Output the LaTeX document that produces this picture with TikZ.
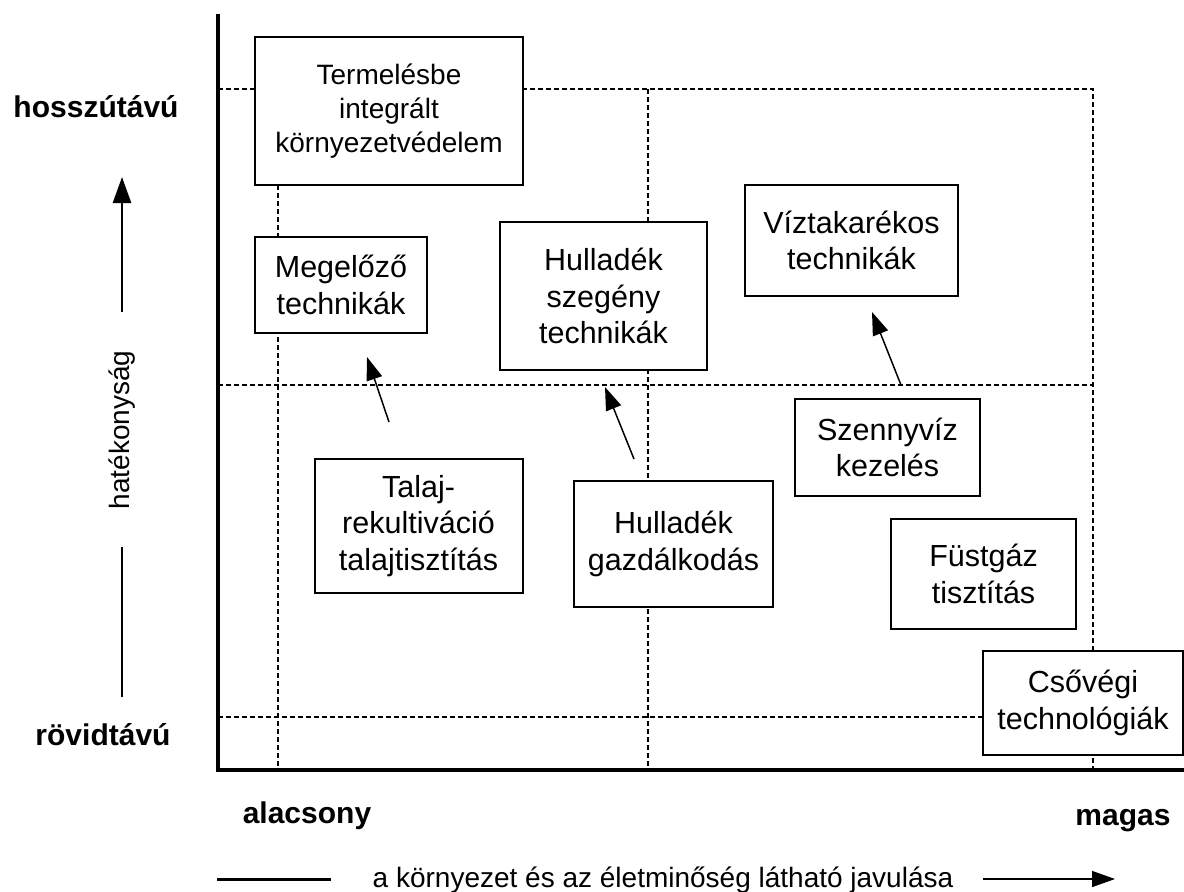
\documentclass[tikz,border=0pt]{standalone}
\usepackage{fontspec}
\setmainfont{Liberation Sans}
\usetikzlibrary{arrows.meta}

\begin{document}
\begin{tikzpicture}[x=0.5pt,y=-0.5pt,
  tbox/.style={rectangle,draw=black,line width=1pt,fill=white,inner sep=0pt,
               align=center,font=\fontsize{15.25}{18.25}\selectfont},
  lbl/.style={anchor=base,font=\fontsize{15}{18}\selectfont\bfseries},
  txt/.style={font=\fontsize{14}{17}\selectfont},
  axisline/.style={draw,line width=2.2pt,line join=miter},
  gridline/.style={draw,line width=1pt,dash pattern=on 2.5pt off 1.5pt},
  arr/.style={draw,line width=0.75pt,-{Triangle[length=11.5pt,width=8pt]}},
  side/.style={draw,line width=1.3pt}]
\useasboundingbox (0,0) rectangle (1184,891);

% dotted quadrant grid
\draw[gridline] (218,89) -- (1093,89) -- (1093,770);
\draw[gridline] (218,385) -- (1093,385);
\draw[gridline] (218,717) -- (1093,717);
\draw[gridline] (278,89) -- (278,770);
\draw[gridline] (648,89) -- (648,770);

% axes
\draw[axisline] (218,14) -- (218,770) -- (1184,770);

% techniques
\node[tbox,font=\fontsize{14}{17}\selectfont,minimum width=134pt,minimum height=74pt] (termel) at (389,111) {Termelésbe\\integrált\\környezetvédelem};
\node[tbox,minimum width=86pt,minimum height=48pt] (megelozo) at (341,285) {Megelőző\\technikák};
\node[tbox,minimum width=103.5pt,minimum height=74pt] (hszegeny) at (603.5,296) {Hulladék\\szegény\\technikák};
\node[tbox,minimum width=106.5pt,minimum height=55.5pt] (viztak) at (851.5,240.5) {Víztakarékos\\technikák};
\node[tbox,minimum width=104pt,minimum height=67pt] (talaj) at (418.5,526) {Talaj-\\rekultiváció\\talajtisztítás};
\node[tbox,minimum width=99.5pt,minimum height=63pt] (hgazd) at (673.5,544) {Hulladék\\gazdálkodás};
\node[tbox,minimum width=92.5pt,minimum height=48.5pt] (szenny) at (887.5,447.5) {Szennyvíz\\kezelés};
\node[tbox,minimum width=92.5pt,minimum height=55pt] (fustgaz) at (983.5,574) {Füstgáz\\tisztítás};
\node[tbox,minimum width=100pt,minimum height=52pt] (csovegi) at (1083,703) {Csővégi\\technológiák};

% shifts towards the preventive side
\coordinate (talaj-up) at (389,422);
\coordinate (megelozo-in) at (367,357);
\coordinate (hgazd-up) at (634,459);
\coordinate (hszegeny-in) at (605,387);
\coordinate (szenny-up) at (901,385);
\coordinate (viztak-in) at (872,312);
\path[arr] (talaj-up) -- (megelozo-in);
\path[arr] (hgazd-up) -- (hszegeny-in);
\path[arr] (szenny-up) -- (viztak-in);

% vertical scale
\node[lbl] (hosszu) at (96,117) {hosszútávú};
\node[lbl] (rovid) at (103,745) {rövidtávú};
\node[txt,rotate=90] (hatek) at (122,430) {hatékonyság};
\coordinate (eff-lo) at (122,697);
\coordinate (eff-mid) at (122,547);
\coordinate (eff-base) at (122,312);
\coordinate (eff-top) at (122,177);
\path[side] (eff-lo) -- (eff-mid);
\path[side,-{Triangle[length=13pt,width=9pt]}] (eff-base) -- (eff-top);

% horizontal scale
\node[lbl] (alacsony) at (307,823) {alacsony};
\node[lbl] (magas) at (1123,825) {magas};
\node[txt,anchor=base] (javulas) at (663,887) {a környezet és az életminőség látható javulása};
\coordinate (imp-l) at (217,879);
\coordinate (imp-m) at (331,879);
\coordinate (imp-r) at (983,879);
\coordinate (imp-end) at (1115,879);
\path[draw,line width=1.5pt] (imp-l) -- (imp-m);
\path[arr] (imp-r) -- (imp-end);
\end{tikzpicture}
\end{document}
